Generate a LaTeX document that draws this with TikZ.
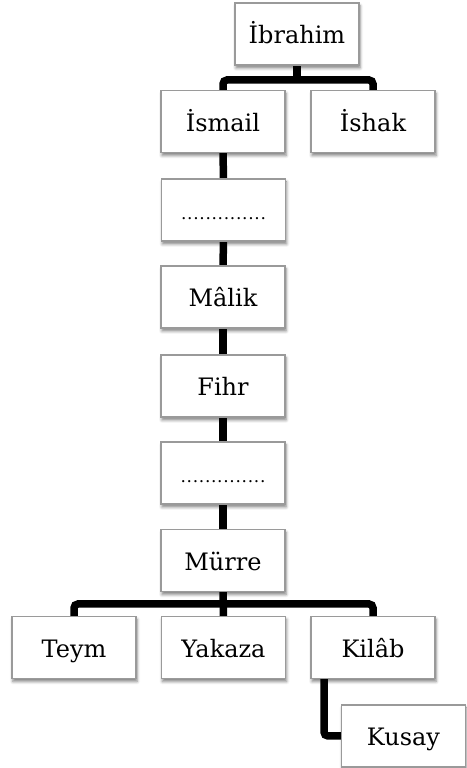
\documentclass[tikz,border=0pt]{standalone}
\usepackage{fontspec}
\setmainfont{DejaVu Serif}
\usetikzlibrary{shadows.blur,backgrounds}
\definecolor{boxline}{HTML}{9A9A9A}
\newcommand{\dotrow}{{\fontsize{17}{20}\selectfont\hbox to 86pt{\xleaders\hbox to 5.75pt{\hss.\hss}\hfill}}}
\begin{document}
\begin{tikzpicture}[x=1pt,y=1pt,
  person/.style={draw=boxline, line width=1.2pt, fill=white,
    minimum width=124pt, minimum height=62pt, inner sep=0pt, outer sep=0pt,
    text height=20pt, text depth=0pt,
    font=\fontsize{24}{28}\selectfont,
    blur shadow={shadow xshift=1pt, shadow yshift=-3pt, shadow blur radius=3pt, shadow opacity=50}},
  link/.style={line width=7.5pt, draw=black, rounded corners=4pt}]
\useasboundingbox (0,0) rectangle (466,768);

% family tree nodes
\node[person] (ibr)   at (297,734)   {İbrahim};
\node[person] (ism)   at (223,646.5) {İsmail};
\node[person] (ish)   at (373,646.5) {İshak};
\node[person] (d1)    at (223.5,558) {\dotrow};
\node[person] (mal)   at (223,471)   {Mâlik};
\node[person] (fihr)  at (223,382)   {Fihr};
\node[person] (d2)    at (223,295)   {\dotrow};
\node[person] (murre) at (223,207.5) {Mürre};
\node[person] (teym)  at (74,120.5)  {Teym};
\node[person] (yak)   at (223.5,120.5) {Yakaza};
\node[person] (kil)   at (373,120.5) {Kilâb};
\node[person] (kus)   at (403.5,32)  {Kusay};

\coordinate (topbar) at (0,688);
\coordinate (lowbar) at (0,164);
\coordinate (kdrop) at ([xshift=13pt]kil.south west);

% connectors behind the boxes
\begin{scope}[on background layer]
  \draw[link] (ism.north) |- (topbar -| ibr.south) -| (ish.north);
  \draw[link] (ibr.south) -- (ibr.south |- topbar);
  \draw[link] (ism.south) -- (d1.north);
  \draw[link] (d1.south) -- (mal.north);
  \draw[link] (mal.south) -- (fihr.north);
  \draw[link] (fihr.south) -- (d2.north);
  \draw[link] (d2.south) -- (murre.north);
  \draw[link] (teym.north) |- (lowbar -| murre.south) -| (kil.north);
  \draw[link] (murre.south) -- (yak.north);
  \draw[link] (kdrop) |- (kus.west);
\end{scope}
\end{tikzpicture}
\end{document}
